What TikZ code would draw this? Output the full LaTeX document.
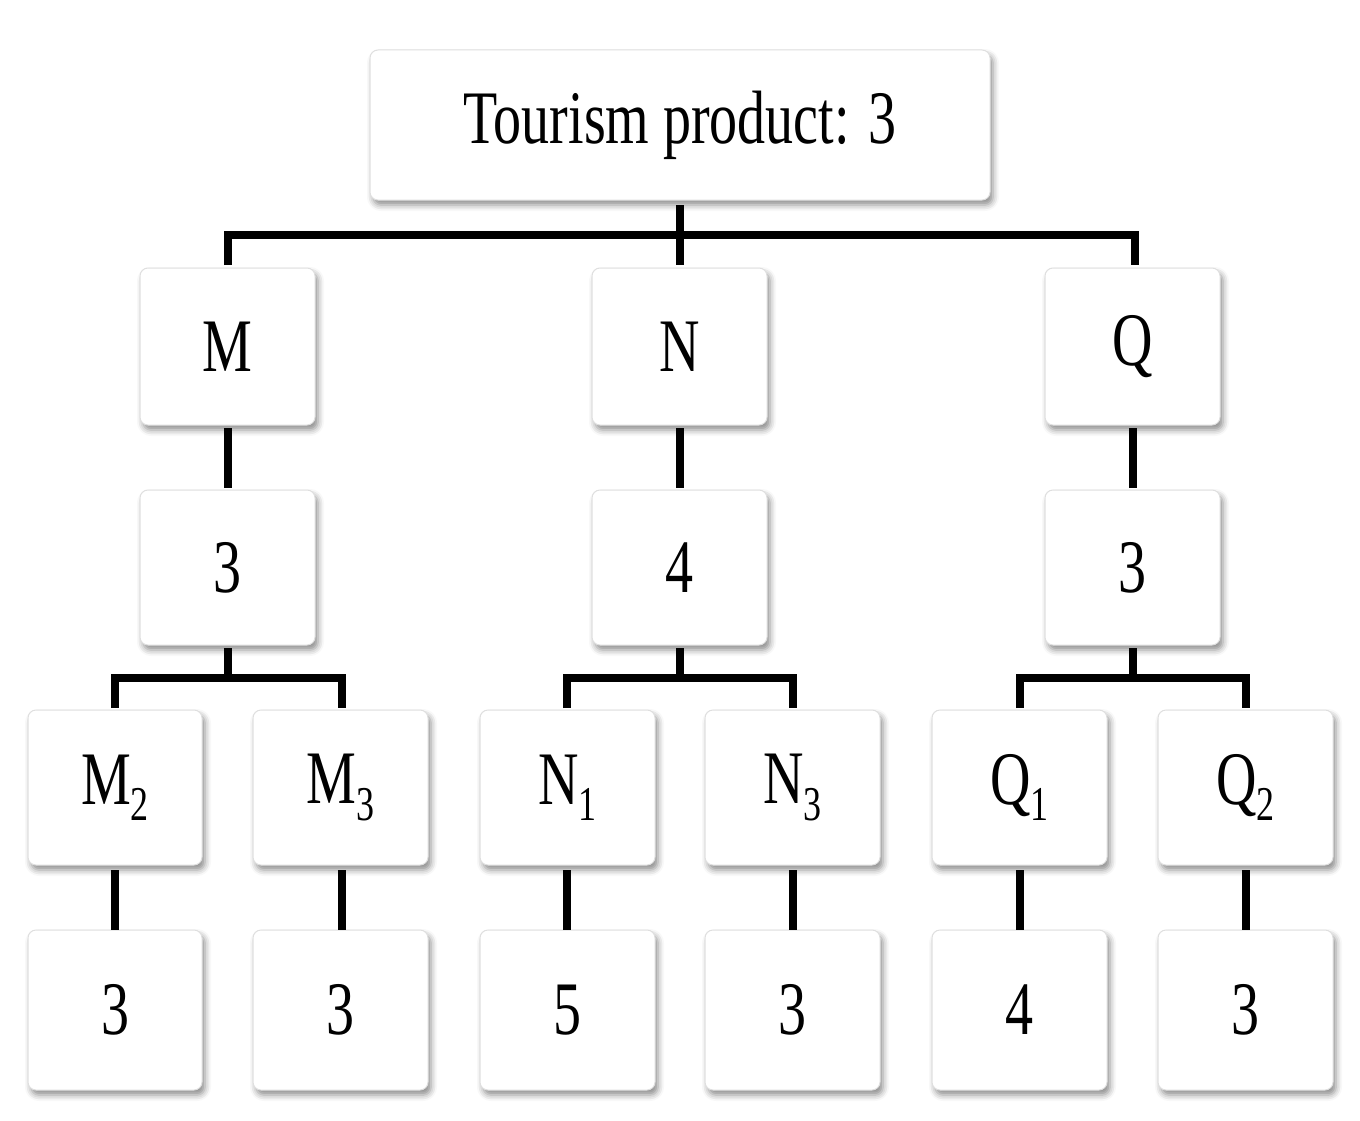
\documentclass[tikz,border=0pt]{standalone}
\usepackage{fontspec}
\setmainfont{Liberation Serif}
\usetikzlibrary{shadows.blur}
\newcommand{\sbx}[1]{\raisebox{-12pt}{\fontsize{36}{36}\selectfont #1}}
\begin{document}
\begin{tikzpicture}[x=1pt,y=-1pt,
  bx/.style={draw=gray!25,line width=1pt,fill=white,rounded corners=8pt,
    blur shadow={shadow xshift=3pt,shadow yshift=-5pt,shadow blur radius=6pt,shadow opacity=45}},
  ln/.style={line width=8pt},
  t/.style={font=\fontsize{56}{60}\selectfont}]
\useasboundingbox (0,0) rectangle (1360,1121);
\newcommand{\bxx}[6]{% name x1 y1 x2 y2 text
  \draw[bx] (#2,#3) rectangle (#4,#5);
  \node[t] (#1) at ({(#2+#4)/2},{(#3+#5)/2}) {\scalebox{1}[1.35]{#6}};}
\bxx{top}{370}{50}{990}{200}{Tourism product: 3}
\bxx{M}{140}{268}{315}{425}{M}
\bxx{N}{592}{268}{767}{425}{N}
\bxx{Q}{1045}{268}{1220}{425}{Q}
\bxx{m}{140}{490}{315}{645}{3}
\bxx{n}{592}{490}{767}{645}{4}
\bxx{q}{1045}{490}{1220}{645}{3}
\bxx{Mb}{28}{710}{202}{865}{M\sbx{2}}
\bxx{Mc}{253}{710}{428}{865}{M\sbx{3}}
\bxx{Na}{480}{710}{655}{865}{N\sbx{1}}
\bxx{Nc}{705}{710}{880}{865}{N\sbx{3}}
\bxx{Qa}{932}{710}{1107}{865}{Q\sbx{1}}
\bxx{Qb}{1158}{710}{1333}{865}{Q\sbx{2}}
\bxx{mb}{28}{930}{202}{1090}{3}
\bxx{mc}{253}{930}{428}{1090}{3}
\bxx{na}{480}{930}{655}{1090}{5}
\bxx{nc}{705}{930}{880}{1090}{3}
\bxx{qa}{932}{930}{1107}{1090}{4}
\bxx{qb}{1158}{930}{1333}{1090}{3}
% connectors
\draw[ln] (680,205) -- (680,265);
\draw[ln] (228,265) -- (228,235) -- (1135,235) -- (1135,265);
\foreach \x in {228,680,1133}{\draw[ln] (\x,428) -- (\x,488);}
\foreach \x/\a/\b in {228/115/342,680/567/793,1133/1020/1246}{
  \draw[ln] (\x,648) -- (\x,678);
  \draw[ln] (\a,708) -- (\a,678) -- (\b,678) -- (\b,708);}
\foreach \x in {115,342,567,793,1020,1246}{\draw[ln] (\x,870) -- (\x,930);}
\end{tikzpicture}
\end{document}
